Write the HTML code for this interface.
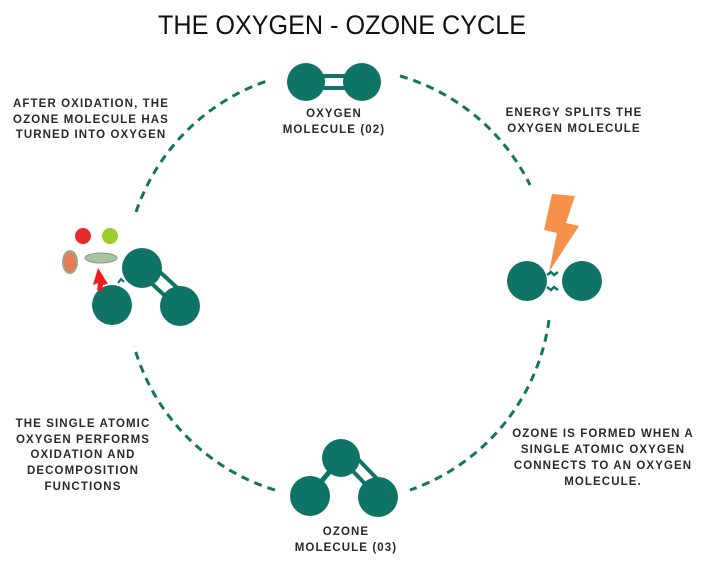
<!DOCTYPE html>
<html><head><meta charset="utf-8"><style>
body{margin:0;background:#fff;}
svg{display:block;}
.t{font-family:"Liberation Sans",sans-serif;font-weight:bold;font-size:11.5px;fill:#2a2a2a;letter-spacing:1.1px;}
</style></head><body>
<svg width="714" height="568" viewBox="0 0 714 568">
<text x="342" y="34" text-anchor="middle" font-family="Liberation Sans,sans-serif" font-size="27" fill="#111" textLength="368" lengthAdjust="spacingAndGlyphs">THE OXYGEN - OZONE CYCLE</text>
<g fill="none" stroke="#137464" stroke-width="3" stroke-dasharray="8,6">
<path d="M136,212 A210,210 0 0 1 270,80"/>
<path d="M400,76 A210,210 0 0 1 530,185"/>
<path d="M549,320 A210,210 0 0 1 410,490"/>
<path d="M275,490 A210,210 0 0 1 134,346"/>
</g>
<g fill="#0f7465" stroke="#0f7465">
<line x1="320" y1="76" x2="348" y2="76" stroke-width="4"/>
<line x1="320" y1="88" x2="348" y2="88" stroke-width="4"/>
<circle cx="306" cy="82" r="19" stroke="none"/>
<circle cx="362" cy="82" r="19" stroke="none"/>
<circle cx="527" cy="281" r="20" stroke="none"/>
<circle cx="582" cy="281" r="20" stroke="none"/>
<path d="M547,275 l4,-3 l3,3 l4,-3 M547,287 l4,3 l3,-3 l4,3" fill="none" stroke-width="2.5"/>
<line x1="341" y1="458" x2="310" y2="495" stroke-width="5"/>
<line x1="346" y1="464" x2="373" y2="492" stroke-width="4"/>
<line x1="356" y1="457" x2="383" y2="485" stroke-width="4"/>
<circle cx="341" cy="458" r="19" stroke="none"/>
<circle cx="310" cy="496" r="20" stroke="none"/>
<circle cx="378" cy="497" r="20" stroke="none"/>
<line x1="150" y1="282" x2="175" y2="305" stroke-width="4"/>
<line x1="160" y1="272" x2="185" y2="295" stroke-width="4"/>
<circle cx="142" cy="268" r="20" stroke="none"/>
<circle cx="112" cy="305" r="20" stroke="none"/>
<circle cx="180" cy="306" r="20" stroke="none"/>
<path d="M124,282 l-3,-3 l-3,4" fill="none" stroke-width="2"/>
</g>
<polygon points="552,194 575,196 566,223 579,226 549,272 557,233 544,230" fill="#f5914a"/>
<circle cx="83" cy="236" r="8" fill="#e52b2b"/>
<circle cx="110" cy="236" r="8" fill="#9bcc2a"/>
<ellipse cx="70" cy="262" rx="7" ry="11" fill="#e87a5a" stroke="#8fb08a" stroke-width="2"/>
<ellipse cx="101" cy="258" rx="16" ry="5" fill="#a9c3a0" stroke="#7f9e7a"/>
<polygon points="98,268 108,284 103,285 102,292 97,290 98,283 93,285" fill="#ee1c1c"/>
<g class="t">
<text x="91" y="107" text-anchor="middle">AFTER OXIDATION, THE</text>
<text x="91" y="123" text-anchor="middle">OZONE MOLECULE HAS</text>
<text x="91" y="138" text-anchor="middle">TURNED INTO OXYGEN</text>
<text x="334" y="117" text-anchor="middle">OXYGEN</text>
<text x="334" y="133" text-anchor="middle">MOLECULE (02)</text>
<text x="574" y="116" text-anchor="middle">ENERGY SPLITS THE</text>
<text x="574" y="132" text-anchor="middle">OXYGEN MOLECULE</text>
<text x="83" y="427" text-anchor="middle">THE SINGLE ATOMIC</text>
<text x="83" y="443" text-anchor="middle">OXYGEN  PERFORMS</text>
<text x="83" y="458" text-anchor="middle">OXIDATION AND</text>
<text x="83" y="474" text-anchor="middle">DECOMPOSITION</text>
<text x="83" y="490" text-anchor="middle">FUNCTIONS</text>
<text x="603" y="437" text-anchor="middle">OZONE IS FORMED WHEN A</text>
<text x="603" y="453" text-anchor="middle">SINGLE ATOMIC OXYGEN</text>
<text x="603" y="469" text-anchor="middle">CONNECTS TO AN OXYGEN</text>
<text x="603" y="485" text-anchor="middle">MOLECULE.</text>
<text x="346" y="535" text-anchor="middle">OZONE</text>
<text x="346" y="551" text-anchor="middle">MOLECULE (03)</text>
</g>
</svg>
</body></html>
